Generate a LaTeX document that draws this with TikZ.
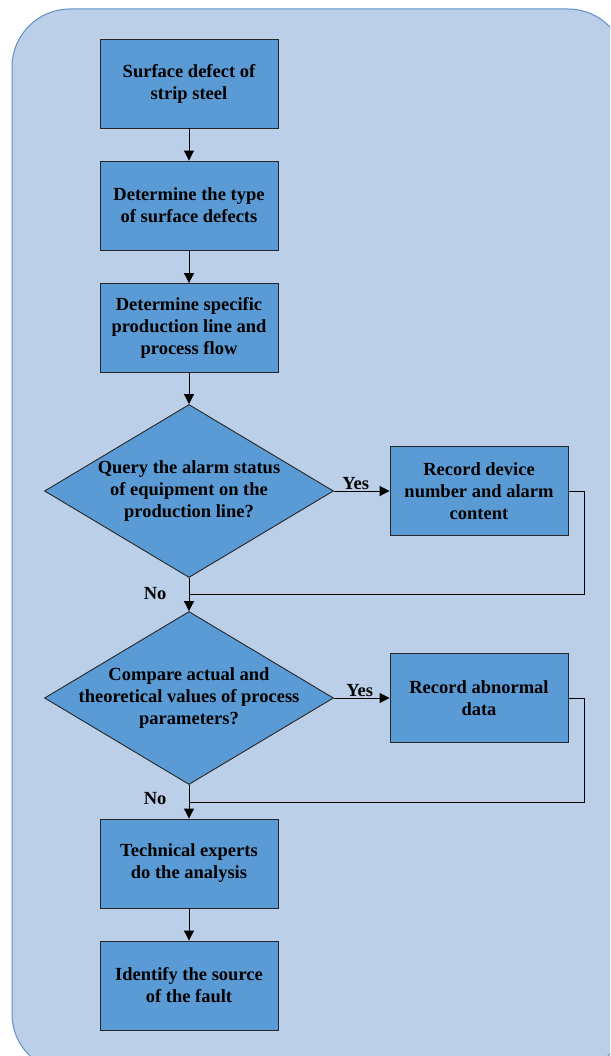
\documentclass[tikz,border=0pt]{standalone}
\usepackage{fontspec}
\setmainfont{Liberation Serif}
\usetikzlibrary{shapes.geometric,arrows.meta,positioning,calc}

\definecolor{panelblue}{HTML}{BBCFE8}
\definecolor{paneledge}{HTML}{5F8FC6}
\definecolor{boxblue}{HTML}{5B9BD5}

\begin{document}
\begin{tikzpicture}[x=1pt, y=-1pt, node distance=122pt,
    procbox/.style={rectangle, draw=black!85, fill=boxblue, line width=0.9pt,
        minimum width=178pt, minimum height=89pt, inner sep=2pt, align=center,
        font=\fontsize{18.5}{22}\selectfont\bfseries},
    decbox/.style={diamond, draw=black!85, fill=boxblue, line width=0.9pt,
        aspect=1.67, minimum width=289pt, minimum height=173pt, inner sep=0pt},
    dectext/.style={align=center, inner sep=0pt,
        font=\fontsize{18.5}{22}\selectfont\bfseries},
    arr/.style={-{Triangle[length=10pt,width=10pt]}, line width=1pt},
    lab/.style={font=\fontsize{18.5}{20}\selectfont\bfseries, inner sep=1pt}]
    \path[use as bounding box, clip] (0,0) rectangle (610,1056);
    \draw[fill=panelblue, draw=paneledge, line width=1pt, rounded corners=58pt]
        (12,9) rectangle (626,1072);

    \node[procbox] (surface) at (189,83.5) {Surface defect of\\strip steel};
    \node[procbox] (type) [below of=surface] {Determine the type\\of surface defects};
    \node[procbox] (flow) [below of=type, node distance=122.5pt] {Determine specific\\production line and\\process flow};
    \node[decbox, label={[dectext]center:{Query the alarm status\\of equipment on the\\production line?}}]
        (alarm) [below of=flow, node distance=163pt] {};
    \node[procbox] (record) [right of=alarm, node distance=290pt] {Record device\\number and alarm\\content};
    \node[decbox, label={[dectext]center:{Compare actual and\\theoretical values of process\\parameters?}}]
        (compare) [below of=alarm, node distance=207pt] {};
    \node[procbox] (abnormal) [right of=compare, node distance=290pt] {Record abnormal\\data};
    \node[procbox] (experts) [below of=compare, node distance=165.5pt] {Technical experts\\do the analysis};
    \node[procbox] (source) [below of=experts] {Identify the source\\of the fault};

    \coordinate (join1) at ($(alarm.south)!0.5!(compare.north)$);
    \coordinate (join2) at (189,802);

    \draw[arr] (surface) -- (type);
    \draw[arr] (type) -- (flow);
    \draw[arr] (flow) -- (alarm);
    \draw[arr] (alarm) -- node[lab, above, xshift=-6pt] {Yes} (record);
    \draw[arr] (alarm) -- node[lab, left, pos=0.47, xshift=-21pt] {No} (compare);
    \draw[line width=1pt] (record.east) -- ++(16,0) |- (join1);
    \draw[arr] (compare) -- node[lab, above, xshift=-2pt] {Yes} (abnormal);
    \draw[arr] (compare) -- node[lab, left, pos=0.4, xshift=-21pt] {No} (experts);
    \draw[line width=1pt] (abnormal.east) -- ++(16,0) |- (join2);
    \draw[arr] (experts) -- (source);
\end{tikzpicture}
\end{document}
